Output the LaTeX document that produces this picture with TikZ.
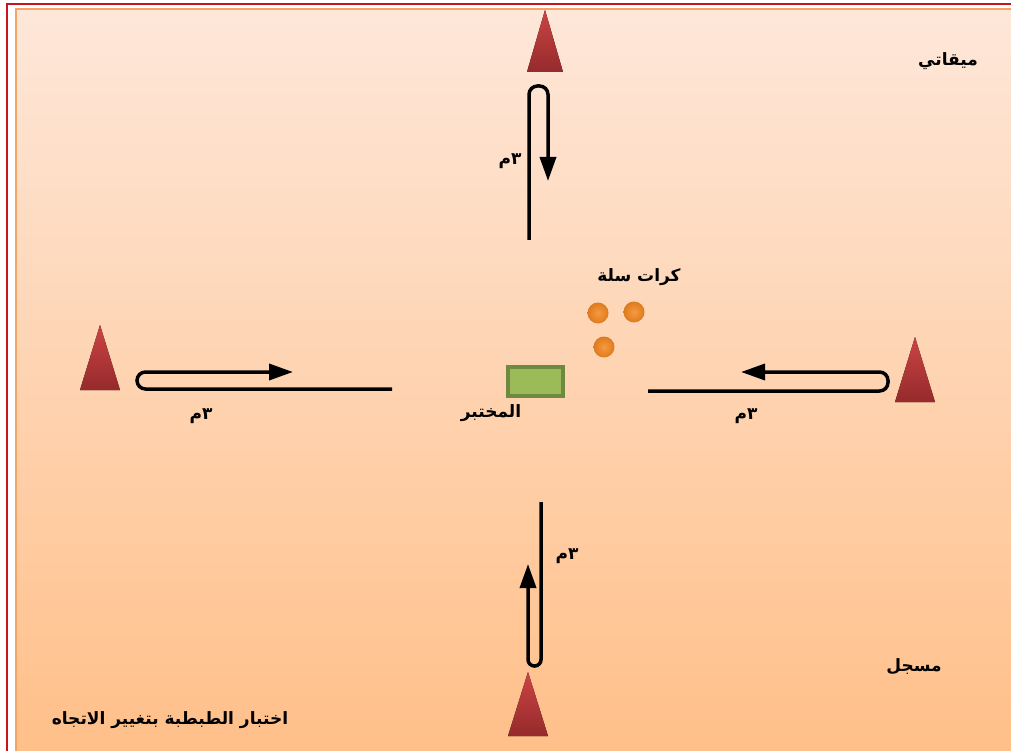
\documentclass[tikz,border=0pt]{standalone}
\usepackage{fontspec}
\usetikzlibrary{arrows.meta}
\TeXXeTstate=1
\newfontfamily\arabicfont[Script=Arabic]{DejaVu Sans}
\definecolor{bgtop}{HTML}{FEE7D9}
\definecolor{bgbot}{HTML}{FFBF88}
\definecolor{conetop}{HTML}{CC4444}
\definecolor{conebot}{HTML}{952A2C}
\definecolor{framered}{HTML}{C8141E}
\definecolor{frameorange}{HTML}{F5A468}
\definecolor{boxfill}{HTML}{9BBB59}
\definecolor{boxdraw}{HTML}{71893F}
\definecolor{ballin}{HTML}{F79A3E}
\definecolor{ballout}{HTML}{DE7A1E}
\tikzset{
  lbl/.style={font=\arabicfont\bfseries\fontsize{17}{19}\selectfont, inner sep=0pt},
  run/.style={line width=3.5pt, rounded corners=8.5pt, -{Triangle[length=24pt,width=16pt]}},
  cone/.style={top color=conetop, bottom color=conebot, draw=none},
  ball/.style={circle, minimum size=21pt, inner sep=0pt, inner color=ballin, outer color=ballout, draw=none},
}
\begin{document}
\begin{tikzpicture}[x=1pt,y=-1pt]
\useasboundingbox (0,0) rectangle (1011,751);
\fill[white] (0,0) rectangle (1011,751);
% outer red frame
\draw[framered, line width=1.5pt] (7,760) -- (7,4) -- (1020,4);
% inner shaded area
\shade[top color=bgtop, bottom color=bgbot] (16,9) rectangle (1020,760);
\draw[frameorange, line width=1.2pt] (16,760) -- (16,9) -- (1020,9);

% cones
\fill[cone] (545,10) -- (563,72) -- (527,72) -- cycle;
\fill[cone] (100,325) -- (120,390) -- (80,390) -- cycle;
\fill[cone] (915,337) -- (935,402) -- (895,402) -- cycle;
\fill[cone] (528,672) -- (548,736) -- (508,736) -- cycle;

% top run
\coordinate (tA) at (529,240);
\coordinate (tB) at (548,181);
\draw[run] (tA) -- (529,86) -- (548,86) -- (tB);
\node[lbl] (t3) at (510,161) {\beginR ٣م\endR};

% left run
\coordinate (lA) at (392,389);
\coordinate (lB) at (293,372);
\draw[run] (lA) -- (137,389) -- (137,372) -- (lB);
\node[lbl] (l3) at (201,416) {\beginR ٣م\endR};

% right run
\coordinate (rA) at (648,391);
\coordinate (rB) at (741,372);
\draw[run] (rA) -- (888,391) -- (888,372) -- (rB);
\node[lbl] (r3) at (746,416) {\beginR ٣م\endR};

% bottom run
\coordinate (bA) at (541,502);
\coordinate (bB) at (528,564);
\draw[run, rounded corners=6.4pt] (bA) -- (541,666) -- (528,666) -- (bB);
\node[lbl] (b3) at (567,556) {\beginR ٣م\endR};

% tester box
\node[draw=boxdraw, fill=boxfill, line width=3.5pt, minimum width=55pt, minimum height=29pt, inner sep=0pt] (box) at (535.5,381.5) {};
\node[lbl] (tester) at (491,413) {\beginR المختبر\endR};

% balls
\node[ball] (b1) at (598,313) {};
\node[ball] (b2) at (634,312) {};
\node[ball] (b3b) at (604,347) {};
\node[lbl] (balls) at (639,277) {\beginR كرات سلة\endR};

% corner labels
\node[lbl] (timer) at (948,61) {\beginR ميقاتي\endR};
\node[lbl] (rec) at (914,667) {\beginR مسجل\endR};
\node[lbl] (title) at (170,720) {\beginR اختبار الطبطبة بتغيير الاتجاه\endR};
\end{tikzpicture}
\end{document}
